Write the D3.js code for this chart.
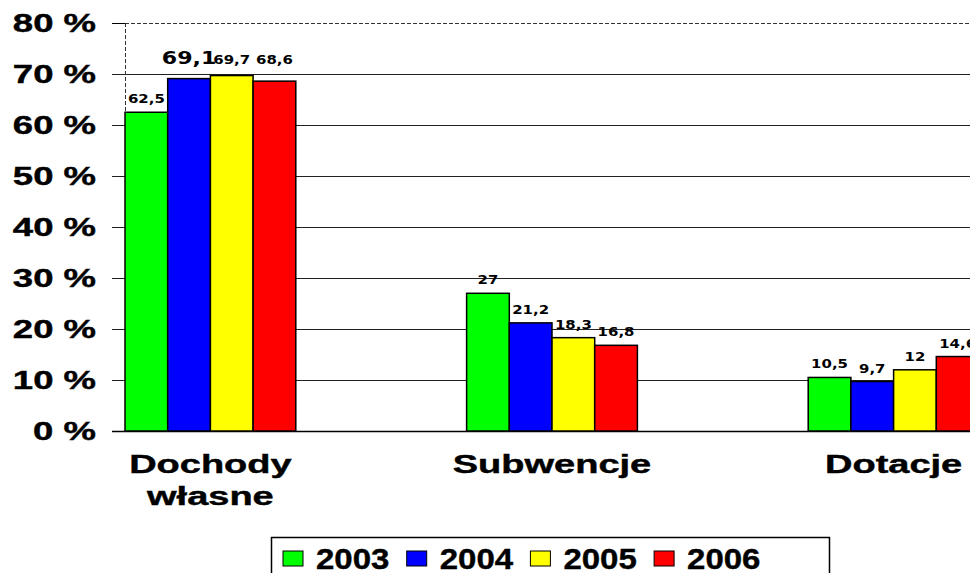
<!DOCTYPE html>
<html>
<head>
<meta charset="utf-8">
<script src="https://cdn.jsdelivr.net/npm/d3@7"></script>
<style>
body { margin: 0; background: #fff; }
svg { display: block; }
</style>
</head>
<body>
<svg id="chart"></svg>
<script>
"use strict";

var CATEGORIES = [["Dochody", "własne"], ["Subwencje"], ["Dotacje"]];
var YEARS = ["2003", "2004", "2005", "2006"];
var V2003 = [62.5, 27, 10.5];
var V2004 = [69.1, 21.2, 9.7];
var V2005 = [69.7, 18.3, 12];
var V2006 = [68.6, 16.8, 14.6];
var LABELS = [
    ["62,5", "27", "10,5"],
    ["69,1", "21,2", "9,7"],
    ["69,7", "18,3", "12"],
    ["68,6", "16,8", "14,6"]
];
var YTICKS = [0, 10, 20, 30, 40, 50, 60, 70, 80];

var COLORS = ["#00ff00", "#0000ff", "#ffff00", "#ff0000"];
var FONT = "'Liberation Sans', Arial, sans-serif";
var LFONT = "'DejaVu Sans', Verdana, sans-serif";

var W = 970, H = 573;
var svg = d3.select("#chart").attr("width", W).attr("height", H);

var series = [V2003, V2004, V2005, V2006];
var catkeys = CATEGORIES.map(function(c) { return c.join(" "); });

var x0 = d3.scaleBand().domain(catkeys).range([125, 979]).paddingInner(0.5).paddingOuter(0);
var x1 = d3.scaleBand().domain(YEARS).range([0, x0.bandwidth()]);
var y = d3.scaleLinear().domain([0, 80]).range([431, 23]);

// grid lines and ticks
var grid = svg.append("g");
YTICKS.forEach(function(t) {
    if (t === 80) {
        grid.append("line")
            .attr("x1", 112).attr("x2", 125)
            .attr("y1", y(t) + 0.5).attr("y2", y(t) + 0.5)
            .attr("stroke", "#000").attr("stroke-width", 1);
        grid.append("line")
            .attr("x1", 125).attr("x2", W)
            .attr("y1", y(t) + 0.5).attr("y2", y(t) + 0.5)
            .attr("stroke", "#333").attr("stroke-width", 1)
            .attr("stroke-dasharray", "4,2");
    } else {
        grid.append("line")
            .attr("x1", 112).attr("x2", W)
            .attr("y1", y(t) + 0.5).attr("y2", y(t) + 0.5)
            .attr("stroke", t === 0 ? "#000" : "#222")
            .attr("stroke-width", t === 0 ? 1.5 : 1);
    }
});
grid.append("line")
    .attr("x1", 125.5).attr("x2", 125.5)
    .attr("y1", y(80)).attr("y2", y(0))
    .attr("stroke", "#333").attr("stroke-width", 1)
    .attr("stroke-dasharray", "4,2");

// y labels
svg.append("g").selectAll("text")
    .data(YTICKS)
    .enter().append("text")
        .attr("transform", function(d) { return "translate(96," + (y(d) + 9) + ") scale(1.46,1)"; })
        .attr("text-anchor", "end")
        .attr("font-family", FONT)
        .attr("font-weight", "bold")
        .attr("font-size", 25)
        .attr("stroke", "#000").attr("stroke-width", 0.4)
        .text(function(d) { return d + " %"; });

// bars
var bars = svg.append("g");
series.forEach(function(vals, s) {
    bars.selectAll(null)
        .data(vals)
        .enter().append("rect")
            .attr("x", function(d, i) { return x0(catkeys[i]) + x1(YEARS[s]); })
            .attr("y", function(d) { return y(d); })
            .attr("width", x1.bandwidth())
            .attr("height", function(d) { return y(0) - y(d); })
            .attr("fill", COLORS[s])
            .attr("stroke", "#000")
            .attr("stroke-width", 1.5);
});

// value labels
var labs = svg.append("g");
series.forEach(function(vals, s) {
    labs.selectAll(null)
        .data(vals)
        .enter().append("text")
            .attr("transform", function(d, i) {
                var cx = x0(catkeys[i]) + x1(YEARS[s]) + x1.bandwidth() / 2;
                var by = y(d) - 9;
                if (i === 0 && d > 65) {
                    by = y(d3.max(series, function(v) { return v[0]; })) - 12;
                }
                return "translate(" + cx + "," + by + ") scale(1.3,1)";
            })
            .attr("text-anchor", "middle")
            .attr("font-family", LFONT)
            .attr("font-weight", "bold")
            .attr("font-size", function(d, i) { return (s === 1 && i === 0) ? 17 : 11.5; })
            .text(function(d, i) { return LABELS[s][i]; });
});

// category labels
var cats = svg.append("g");
CATEGORIES.forEach(function(lines, i) {
    var cx = x0(catkeys[i]) + x0.bandwidth() / 2;
    lines.forEach(function(t, k) {
        cats.append("text")
            .attr("transform", "translate(" + cx + "," + (473 + k * 32) + ") scale(1.52,1)")
            .attr("text-anchor", "middle")
            .attr("font-family", FONT)
            .attr("font-weight", "bold")
            .attr("font-size", 25)
            .attr("stroke", "#000").attr("stroke-width", 0.4)
            .text(t);
    });
});

// legend
var leg = svg.append("g");
leg.append("rect")
    .attr("x", 271.5).attr("y", 537.5)
    .attr("width", 558).attr("height", 40)
    .attr("fill", "#fff").attr("stroke", "#000").attr("stroke-width", 1.5);
YEARS.forEach(function(yr, i) {
    var lx = 283 + i * 123.7;
    leg.append("rect")
        .attr("x", lx).attr("y", 551)
        .attr("width", 20).attr("height", 15)
        .attr("fill", COLORS[i]).attr("stroke", "#000").attr("stroke-width", 1);
    leg.append("text")
        .attr("transform", "translate(" + (lx + 33) + ",569) scale(1.1,1)")
        .attr("font-family", FONT)
        .attr("font-weight", "bold")
        .attr("font-size", 30)
        .attr("stroke", "#000").attr("stroke-width", 0.4)
        .text(yr);
});
</script>
</body>
</html>
